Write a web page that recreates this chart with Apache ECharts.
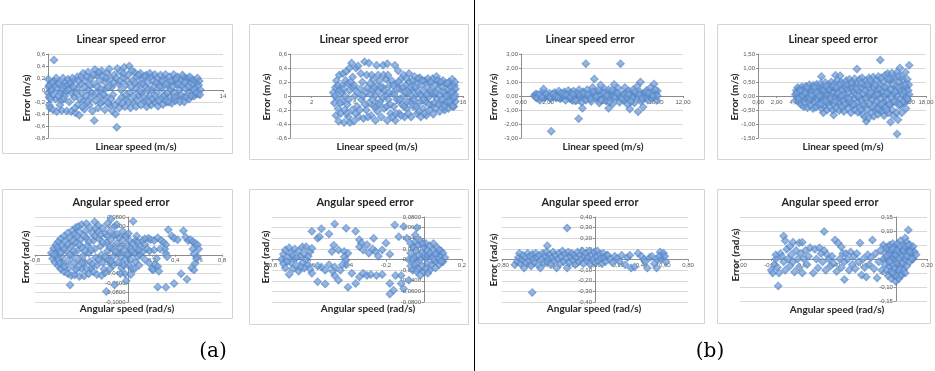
<!DOCTYPE html>
<html><head><meta charset="utf-8">
<script src="https://cdn.jsdelivr.net/npm/echarts@6/dist/echarts.min.js"></script>
<style>html,body{margin:0;padding:0;background:#fff}#c{width:935px;height:371px}</style>
</head><body><div id="c"></div>
<script>
// ---------- DATA ----------
const panelTitles = ["Linear speed error","Linear speed error","Linear speed error","Linear speed error",
  "Angular speed error","Angular speed error","Angular speed error","Angular speed error"];
const xNames = ["Linear speed (m/s)","Linear speed (m/s)","Linear speed (m/s)","Linear speed (m/s)",
  "Angular speed (rad/s)","Angular speed (rad/s)","Angular speed (rad/s)","Angular speed (rad/s)"];
const yNames = ["Error (m/s)","Error (m/s)","Error (m/s)","Error (m/s)",
  "Error (rad/s)","Error (rad/s)","Error (rad/s)","Error (rad/s)"];
const subLabels = ["(a)","(b)"];
// axis ranges: [min, max, interval]
const xRanges = [[0,14,2],[0,16,2],[0,12,2],[0,18,2],[-0.8,0.8,0.2],[-0.8,0.2,0.2],[-0.8,0.8,0.2],[-1,0.2,0.2]];
const yRanges = [[-0.8,0.6,0.2],[-0.6,0.6,0.2],[-3,3,1],[-1.5,1.5,0.5],[-0.1,0.08,0.02],[-0.08,0.08,0.02],[-0.4,0.4,0.1],[-0.15,0.15,0.05]];
// tick label decimals (-1 = general format)
const xDecimals = [-1,-1,2,2,-1,-1,2,2];
const yDecimals = [-1,-1,2,2,4,4,2,2];

const linA = [
[0.02,0.18],[0.05,0.05],[0.0,-0.05],[0.08,-0.12],[0.1,-0.25],[0.15,-0.3],[0.2,0.1],[0.25,-0.02],[0.3,0.0],
[0.48,0.5],[0.4,-0.33],[0.55,0.08],[0.6,-0.15],[0.7,-0.36],[0.5,0.15],[0.75,0.02],
[0.9,0.12],[1.0,-0.05],[1.05,-0.18],[1.1,-0.34],[1.2,0.2],[1.3,0.05],[1.35,-0.1],[1.4,0.12],
[1.5,-0.35],[1.6,0.18],[1.7,-0.2],[1.8,0.08],[1.85,-0.36],[1.9,-0.05],
[2.0,0.15],[2.1,-0.12],[2.2,-0.38],[2.3,0.02],[2.35,0.22],[2.4,-0.25],[2.5,-0.42],
[2.6,0.1],[2.7,-0.05],[2.8,0.28],[2.85,-0.18],[2.9,-0.32],[3.0,0.15],[3.05,-0.1],
[3.2,0.3],[3.25,0.0],[3.3,-0.25],[3.4,0.2],[3.5,-0.05],[3.55,-0.35],[3.6,0.1],[3.7,-0.51],
[3.75,0.34],[3.8,-0.18],[3.9,0.25],[3.95,0.05],[4.0,-0.3],[4.1,0.15],[4.15,-0.1],
[4.3,0.32],[4.35,-0.2],[4.4,0.22],[4.5,0.0],[4.55,-0.33],[4.6,0.12],[4.7,-0.12],[4.75,0.28],
[4.9,0.35],[4.95,-0.25],[5.0,0.18],[5.1,0.05],[5.15,-0.35],[5.2,-0.08],[5.3,0.25],[5.4,-0.4],[5.5,-0.62],
[5.55,0.36],[5.6,-0.2],[5.65,0.1],[5.7,-0.3],[5.8,0.3],[5.85,0.0],[5.9,-0.12],[6.0,0.2],
[6.1,0.38],[6.15,-0.28],[6.2,0.08],[6.3,-0.15],[6.4,0.25],[6.5,0.4],[6.55,-0.05],[6.6,-0.3],
[6.75,0.15],[6.8,-0.2],[6.9,0.3],[7.0,0.02],[7.05,-0.28],[7.1,0.22],[7.2,-0.1],[7.3,0.1],
[7.4,0.28],[7.45,-0.25],[7.5,-0.05],[7.6,0.18],[7.7,-0.18],[7.8,0.05],[7.85,0.25],[7.9,-0.28],
[8.0,0.12],[8.1,-0.1],[8.2,0.22],[8.25,-0.25],[8.3,0.0],[8.4,0.15],[8.5,-0.2],[8.55,0.26],
[8.7,-0.05],[8.75,0.2],[8.8,-0.27],[8.9,0.1],[9.0,0.25],[9.05,-0.15],[9.1,0.03],[9.2,-0.24],
[9.3,0.18],[9.35,-0.08],[9.4,0.26],[9.5,-0.2],[9.6,0.08],[9.7,0.22],[9.75,-0.12],[9.8,0.0],
[9.9,-0.22],[10.0,0.15],[10.05,0.26],[10.1,-0.05],[10.2,-0.18],[10.3,0.1],[10.35,0.22],[10.4,-0.1],
[10.5,0.0],[10.55,-0.2],[10.6,0.18],[10.7,0.08],[10.8,-0.12],[10.85,0.22],[10.9,-0.2],[11.0,0.02],
[11.1,0.15],[11.15,-0.08],[11.2,0.2],[11.3,-0.15],[11.4,0.05],[11.5,0.18],[11.55,-0.05],[11.6,0.1],
[11.7,-0.1],[11.75,0.15],[11.8,0.02],[11.9,0.12],[12.0,-0.05],[12.05,0.08],[12.1,0.15],[12.2,0.0],
[0.1,0.08],[0.2,-0.15],[0.35,0.12],[0.45,-0.08],[0.65,0.2],[0.8,-0.1],[0.85,0.1],[0.95,-0.25],[1.15,0.0],[1.25,-0.15],[1.45,-0.02],[1.55,0.08],[1.65,0.0],[1.75,0.12],[1.95,0.2],[2.05,0.05],[2.15,-0.3],[2.25,-0.05],[2.45,0.15],[2.55,-0.15],[2.65,0.22],[2.75,-0.28],[2.95,0.05],[3.1,0.22],[3.15,-0.2],[3.35,0.08],[3.45,-0.12],[3.65,0.25],[3.85,-0.05],[4.05,0.3],[4.2,-0.22],[4.25,0.02],[4.45,-0.08],[4.65,0.2],[4.8,-0.22],[4.85,0.05],[5.05,-0.15],[5.25,0.12],[5.35,-0.25],[5.45,0.2],[5.75,0.15],[5.95,-0.22],[6.05,0.28],[6.25,-0.08],[6.35,0.15],[6.45,-0.2],[6.65,0.05],[6.7,0.32],[6.85,-0.1],[6.95,0.12],[7.15,-0.18],[7.25,0.25],[7.35,-0.02],[7.55,0.1],[7.65,-0.12],[7.75,0.22],[7.95,0.0],[8.05,-0.2],[8.15,0.28],[8.35,-0.15],[8.45,0.05],[8.6,-0.1],[8.65,0.12],[8.85,-0.18],[8.95,0.05],[9.15,0.15],[9.25,-0.1],[9.45,0.1],[9.55,-0.05],[9.65,-0.2],[9.85,0.15],[9.95,0.05],[10.15,-0.12],[10.25,0.18],[10.45,0.1],[10.65,-0.08],[10.75,0.25],[10.95,0.12],[11.05,-0.12],[11.25,0.05],[11.35,0.22],[11.45,-0.1],[11.65,0.0],[11.85,-0.05],[11.95,0.2],[12.15,-0.08]
];
const linA2 = [
[4.0,0.05],[4.1,-0.1],[4.2,0.12],[4.25,-0.28],[4.3,0.22],[4.35,-0.02],[4.45,-0.18],[4.5,-0.36],[4.55,0.3],[4.6,0.08],[4.7,-0.25],[4.8,0.15],[4.85,-0.08],[4.9,0.32],[5.0,-0.38],[5.05,-0.2],[5.1,0.0],[5.15,0.22],[5.2,0.35],[5.3,-0.12],[5.4,-0.3],[5.5,0.08],[5.5,0.4],[5.55,-0.38],
[5.7,0.47],[5.8,0.27],[5.75,-0.2],[5.85,0.12],[5.9,-0.36],[6.0,0.0],[6.1,0.4],[6.2,-0.15],[6.3,0.43],[6.35,-0.3],[6.5,0.1],[6.6,-0.05],[6.7,0.2],[6.8,-0.32],[6.9,0.49],[7.0,0.05],[7.05,-0.2],[7.1,0.3],
[7.3,0.47],[7.3,-0.1],[7.4,0.18],[7.5,-0.28],[7.6,0.08],[7.7,0.24],[7.75,-0.15],[7.85,0.0],[7.9,-0.35],[8.0,0.44],[8.0,0.15],[8.1,-0.22],[8.2,0.06],[8.3,0.22],[8.35,-0.08],[8.45,-0.3],
[8.6,0.44],[8.6,0.12],[8.7,-0.18],[8.8,0.0],[8.9,0.24],[9.0,0.46],[9.0,-0.35],[9.1,-0.05],[9.2,0.15],[9.3,-0.25],[9.4,0.22],[9.5,0.04],[9.6,-0.15],[9.7,0.44],[9.75,-0.35],[9.85,0.18],[9.9,-0.05],[10.0,0.36],
[10.1,-0.25],[10.2,0.1],[10.3,0.25],[10.35,-0.12],[10.5,0.3],[10.5,0.0],[10.6,-0.3],[10.7,0.15],[10.8,-0.18],[10.9,0.05],[11.0,0.32],[11.05,0.2],[11.1,-0.08],[11.2,-0.3],[11.3,0.1],[11.4,-0.15],[11.5,0.28],[11.55,0.0],
[11.7,0.18],[11.75,-0.25],[11.8,0.08],[11.9,-0.1],[12.0,0.26],[12.05,0.02],[12.1,-0.3],[12.2,0.15],[12.3,-0.18],[12.4,0.05],[12.5,0.22],[12.55,-0.08],[12.6,-0.28],[12.7,0.12],[12.8,-0.02],[12.9,0.2],[12.95,-0.2],
[13.0,0.08],[13.1,-0.12],[13.2,0.25],[13.25,-0.26],[13.3,0.02],[13.4,0.15],[13.5,-0.18],[13.55,0.28],[13.6,-0.05],[13.7,0.1],[13.8,0.2],[13.85,-0.22],[13.9,0.0],[14.0,0.14],[14.1,-0.12],[14.15,0.22],
[14.3,-0.2],[14.35,0.05],[14.4,0.18],[14.5,-0.08],[14.6,0.1],[14.65,-0.18],[14.7,0.2],[14.8,0.0],[14.85,-0.12],[14.9,0.12],[15.0,0.24],[15.0,-0.05],[15.1,0.08],[15.15,-0.15],[15.2,0.15],[15.25,0.02],[15.3,-0.08],[15.3,0.1],
[4.15,0.0],[4.4,0.15],[4.65,-0.1],[4.75,0.05],[4.95,0.1],[5.25,-0.25],[5.35,0.18],[5.45,-0.05],[5.6,0.2],[5.95,0.15],[6.05,-0.25],[6.25,0.05],[6.45,-0.2],[6.55,0.32],[6.75,0.0],[6.95,-0.12],[7.15,0.12],[7.2,-0.3],[7.45,0.02],[7.55,0.3],[7.65,-0.05],[7.8,0.12],[7.95,-0.15],[8.15,0.3],[8.25,-0.12],[8.4,0.12],[8.55,-0.02],[8.65,0.3],[8.75,0.08],[8.95,-0.15],[9.05,0.3],[9.15,0.05],[9.25,-0.12],[9.45,-0.3],[9.55,0.15],[9.65,0.02],[9.8,-0.25],[9.95,0.1],[10.05,0.2],[10.15,-0.05],[10.25,-0.28],[10.45,0.12],[10.55,-0.15],[10.65,0.05],[10.75,0.25],[10.85,-0.08],[10.95,-0.25],[11.15,0.12],[11.25,0.0],[11.35,0.22],[11.45,-0.05],[11.6,0.12],[11.65,-0.15],[11.85,0.25],[11.95,-0.22],[12.15,0.0],[12.25,0.22],[12.35,-0.05],[12.45,-0.25],[12.65,0.02],[12.75,0.25],[12.85,-0.12],[13.05,0.2],[13.15,0.05],[13.35,-0.1],[13.45,0.05],[13.65,0.22],[13.75,-0.12],[13.95,0.2],[14.05,-0.05],[14.2,0.05],[14.25,-0.15],[14.45,0.0],[14.55,0.18],[14.75,-0.08],[14.95,0.05],[15.05,-0.15],[15.25,0.2],[15.2,-0.02]
];
const linB = [
[1.0,0.05],[1.05,-0.05],[1.1,0.15],[1.2,0.1],[1.3,-0.1],[1.4,-0.3],[1.5,0.05],[1.6,0.25],[1.67,0.5],[1.75,-0.15],[1.8,-0.05],[1.9,0.1],[2.0,0.0],[2.1,0.2],[2.2,-0.2],[2.24,-2.52],[2.3,0.1],[2.4,-0.05],[2.5,0.25],[2.6,-0.15],[2.6,0.15],[2.7,0.05],[2.8,0.35],[2.9,-0.2],[3.0,0.15],[3.0,-0.15],[3.1,-0.05],[3.2,0.3],[3.3,-0.3],[3.4,0.1],[3.5,0.4],[3.5,0.0],[3.55,-0.15],[3.6,0.05],[3.7,0.25],[3.8,-0.3],[3.9,0.35],[4.0,0.0],[4.1,-0.2],[4.1,0.15],[4.2,0.2],[4.27,-1.62],[4.3,0.45],[4.4,-0.1],[4.5,-0.45],[4.55,-0.88],[4.6,0.3],[4.7,0.05],[4.7,-0.15],[4.8,2.31],[4.8,-0.3],[4.9,0.45],[5.0,-0.05],[5.1,0.15],[5.2,-0.4],[5.2,0.05],[5.3,0.6],[5.43,1.21],[5.5,0.2],[5.6,-0.2],[5.6,0.3],[5.7,0.0],[5.8,-0.5],[5.9,0.79],[6.0,0.35],[6.1,-0.1],[6.2,0.5],[6.2,-0.05],[6.3,-0.35],[6.4,0.15],[6.49,-0.88],[6.5,0.45],[6.6,-0.2],[6.7,0.05],[6.8,-0.55],[6.8,0.2],[6.9,0.83],[7.0,0.3],[7.1,-0.1],[7.2,0.55],[7.3,-0.45],[7.3,0.0],[7.37,2.31],[7.5,0.15],[7.6,-0.3],[7.7,0.6],[7.8,-0.05],[7.8,0.25],[7.9,-0.6],[8.0,0.35],[8.06,-0.93],[8.1,0.05],[8.2,-0.25],[8.3,0.45],[8.3,-0.1],[8.4,-0.5],[8.5,0.15],[8.6,0.7],[8.67,-1.12],[8.7,-0.15],[8.8,0.3],[8.85,1.0],[8.9,-0.4],[8.9,0.1],[9.04,-0.79],[9.1,0.2],[9.2,-0.1],[9.3,0.4],[9.3,-0.15],[9.4,-0.3],[9.5,0.05],[9.6,0.6],[9.6,0.1],[9.7,-0.2],[9.8,0.3],[9.85,0.86],[9.9,-0.05],[10.0,0.15],[10.05,-0.3],[10.1,0.35],[10.1,0.0],
[1.15,-0.15],[1.35,0.1],[1.55,-0.1],[1.85,0.15],[2.15,-0.1],[2.35,0.15],[2.55,-0.05],[2.75,-0.1],[2.95,0.2],[3.15,0.1],[3.35,0.05],[3.65,-0.1],[3.85,0.1],[4.05,-0.35],[4.35,0.1],[4.65,0.15],[4.95,0.1],[5.15,-0.2],[5.35,0.3],[5.55,-0.05],[5.75,0.4],[5.95,-0.3],[6.15,0.2],[6.35,0.0],[6.55,-0.45],[6.75,0.4],[6.95,-0.1],[7.15,0.2],[7.45,-0.2],[7.65,0.1],[7.95,0.1],[8.15,-0.4],[8.45,0.3],[8.75,0.1],[8.95,-0.2],[9.25,0.25],[9.45,0.2],[9.75,0.0],[9.95,0.45]
];
const linB2 = [
[6.8,0.7],[10.6,0.96],[13.1,1.29],[15.2,1.0],[16.2,1.1],[11.6,-0.9],[14.9,-1.36],[14.2,-0.93],[8.1,-0.68],[7.0,-0.6],[8.3,0.74],[8.8,0.72],
[4.0,0.05],[4.05,-0.15],[4.1,0.2],[4.2,-0.05],[4.25,0.3],[4.3,0.12],[4.4,-0.22],[4.45,0.0],[4.5,0.25],
[4.6,-0.3],[4.65,0.1],[4.7,0.33],[4.8,-0.12],[4.85,0.2],[4.9,-0.38],[4.95,0.05],[5.0,-0.25],
[5.1,0.35],[5.15,0.15],[5.2,-0.08],[5.3,-0.42],[5.35,0.25],[5.4,0.0],[5.45,-0.2],[5.5,0.4],
[5.6,0.1],[5.65,-0.35],[5.7,0.3],[5.8,-0.1],[5.85,0.18],[5.9,-0.45],[5.95,0.38],[6.0,0.02],
[6.1,-0.22],[6.15,0.25],[6.2,-0.4],[6.3,0.42],[6.35,0.08],[6.4,-0.15],[6.45,0.3],[6.5,-0.3],
[6.6,0.15],[6.65,-0.05],[6.7,0.45],[6.8,-0.45],[6.85,0.22],[6.9,0.0],[6.95,-0.2],[7.0,0.35],
[7.1,-0.35],[7.15,0.1],[7.2,0.48],[7.3,-0.1],[7.35,0.28],[7.4,-0.5],[7.45,0.05],[7.5,-0.25],
[7.6,0.4],[7.65,0.18],[7.7,-0.4],[7.8,0.0],[7.85,0.5],[7.9,-0.18],[7.95,0.3],[8.0,-0.5],
[8.1,0.1],[8.15,-0.3],[8.2,0.45],[8.3,-0.05],[8.35,0.25],[8.4,-0.45],[8.45,0.05],[8.5,0.55],
[8.6,-0.2],[8.65,0.35],[8.7,-0.52],[8.8,0.15],[8.85,-0.08],[8.9,0.5],[8.95,-0.35],[9.0,0.2],
[9.1,-0.15],[9.15,0.42],[9.2,-0.55],[9.3,0.05],[9.35,0.3],[9.4,-0.3],[9.45,0.55],[9.5,-0.05],
[9.6,0.25],[9.65,-0.45],[9.7,0.1],[9.8,0.6],[9.85,-0.2],[9.9,0.38],[9.95,-0.6],[10.0,0.0],
[10.1,0.5],[10.15,-0.35],[10.2,0.2],[10.3,-0.1],[10.35,0.62],[10.4,-0.5],[10.45,0.3],[10.5,0.05],
[10.6,-0.25],[10.65,0.45],[10.7,-0.58],[10.8,0.15],[10.85,-0.05],[10.9,0.6],[10.95,-0.4],[11.0,0.3],
[11.1,-0.15],[11.15,0.65],[11.2,-0.65],[11.3,0.1],[11.35,0.4],[11.4,-0.35],[11.45,-0.75],[11.5,0.2],
[11.6,0.55],[11.65,-0.05],[11.7,-0.5],[11.8,0.3],[11.85,-0.78],[11.9,0.65],[11.95,0.0],[12.0,-0.3],
[12.1,0.45],[12.15,-0.6],[12.2,0.15],[12.3,-0.15],[12.35,0.68],[12.4,-0.72],[12.45,0.3],[12.5,0.0],
[12.6,-0.45],[12.65,0.55],[12.7,-0.2],[12.8,0.2],[12.85,-0.65],[12.9,0.7],[12.95,0.05],[13.0,-0.35],
[13.1,0.4],[13.15,-0.1],[13.2,0.65],[13.3,-0.55],[13.35,0.15],[13.4,-0.25],[13.45,0.5],[13.5,-0.7],
[13.6,0.0],[13.65,0.75],[13.7,-0.4],[13.8,0.3],[13.85,-0.15],[13.9,0.8],[13.95,-0.6],[14.0,0.1],
[14.1,0.55],[14.15,-0.3],[14.2,0.25],[14.3,-0.05],[14.35,0.82],[14.4,-0.5],[14.45,0.4],[14.5,-0.7],
[14.6,0.1],[14.65,0.65],[14.7,-0.2],[14.8,0.35],[14.85,-0.6],[14.9,0.85],[14.95,0.0],[15.0,-0.85],
[15.1,0.5],[15.15,-0.35],[15.2,0.2],[15.3,-0.1],[15.35,0.7],[15.4,-0.6],[15.45,0.35],[15.5,0.05],
[15.6,0.55],[15.65,-0.25],[15.7,0.15],[15.8,0.85],[15.85,-0.45],[15.9,0.3],[15.95,0.0],[16.0,0.6],[16.05,-0.15],[16.1,0.2],[16.15,0.4],[16.2,0.05],
[4.15,0.1],[4.35,-0.1],[4.55,0.18],[4.75,0.0],[5.05,0.1],[5.25,0.3],[5.55,-0.1],[5.75,0.02],[6.05,0.3],[6.25,0.12],[6.55,0.0],[6.75,-0.3],[7.05,0.2],[7.25,-0.2],[7.55,0.25],[7.75,-0.1],[8.05,0.35],[8.25,-0.2],[8.55,0.1],[8.75,0.4],[8.95,0.0],[9.25,-0.3],[9.55,0.4],[9.75,-0.1],[10.05,0.3],[10.25,-0.3],[10.55,0.25],[10.75,0.0],[11.05,0.45],[11.25,-0.3],[11.55,-0.1],[11.75,0.4],[12.05,0.1],[12.25,-0.4],[12.55,0.4],[12.75,0.05],[13.05,0.25],[13.25,-0.3],[13.55,0.3],[13.75,0.1],[14.05,-0.3],[14.25,0.6],[14.55,-0.2],[14.75,0.15],[15.05,0.3],[15.25,-0.3],[15.55,-0.2],[15.75,0.4],[16.0,-0.1],[9.0,-0.4],[10.0,0.45],[11.0,-0.5],[12.0,0.55],[13.0,-0.5],[14.0,0.6],[15.0,0.7],[12.8,-0.45],[13.8,-0.5],[8.4,0.3],[7.3,0.35]
];
const angA = [
[-0.66,0.004],[-0.64,0.014],[-0.62,0.022],[-0.6,0.028],[-0.58,0.034],[-0.55,0.04],[-0.52,0.046],[-0.48,0.052],[-0.45,0.058],[-0.43,0.06],[-0.4,0.064],[-0.36,0.066],[-0.33,0.058],[-0.29,0.07],[-0.26,0.062],[-0.22,0.056],[-0.18,0.066],[-0.15,0.076],[-0.12,0.06],[-0.1,0.064],
[-0.65,-0.008],[-0.63,-0.016],[-0.6,-0.024],[-0.58,-0.03],[-0.55,-0.036],[-0.52,-0.04],[-0.49,-0.044],[-0.46,-0.043],[-0.42,-0.046],[-0.38,-0.045],[-0.34,-0.04],[-0.3,-0.036],[-0.27,-0.042],[-0.23,-0.044],[-0.2,-0.038],[-0.16,-0.03],[-0.5,-0.064],[-0.19,-0.078],[-0.12,-0.064],[-0.4,-0.03],[-0.44,-0.028],
[-0.62,0.0],[-0.6,0.01],[-0.6,-0.012],[-0.57,0.018],[-0.57,-0.004],[-0.56,-0.02],[-0.54,0.028],[-0.53,0.008],[-0.52,-0.012],[-0.51,-0.028],[-0.5,0.036],[-0.49,0.018],[-0.48,-0.002],[-0.47,-0.018],[-0.46,0.044],[-0.45,0.026],[-0.44,0.008],[-0.43,-0.01],[-0.42,0.048],[-0.41,0.032],[-0.4,0.016],[-0.39,-0.002],[-0.38,-0.018],[-0.37,0.05],[-0.36,0.036],[-0.35,0.02],[-0.34,0.004],[-0.33,-0.014],[-0.32,-0.028],[-0.31,0.046],[-0.3,0.03],[-0.29,0.012],[-0.28,-0.006],[-0.27,-0.022],[-0.26,0.05],[-0.25,0.034],[-0.24,0.018],[-0.23,0.0],[-0.22,-0.016],[-0.21,-0.03],[-0.2,0.044],[-0.19,0.026],[-0.18,0.008],[-0.17,-0.012],[-0.16,0.05],[-0.15,0.032],[-0.14,0.014],[-0.13,-0.004],[-0.13,-0.022],[-0.12,0.042],
[-0.1,0.024],[-0.09,0.004],[-0.09,-0.016],[-0.08,0.036],[-0.07,0.014],[-0.06,-0.006],[-0.06,-0.028],[-0.05,0.03],[-0.04,0.01],[-0.03,-0.01],[-0.03,-0.04],[-0.02,0.04],[-0.01,0.02],[0.0,0.0],[0.0,-0.022],[0.01,0.03],[0.02,0.012],[0.02,-0.01],[0.03,-0.03],[0.04,0.024],[0.04,0.071],[0.05,0.004],[0.06,-0.016],[0.06,0.03],[0.07,0.012],[0.08,-0.004],[0.08,0.028],[0.09,-0.022],[0.1,0.018],[0.1,0.0],[-0.02,-0.055],[0.02,-0.042],
[0.12,0.03],[0.14,0.022],[0.17,0.035],[0.19,0.032],[0.22,0.03],[0.25,0.036],[0.28,0.03],[0.3,0.026],[0.34,0.053],[0.37,0.04],[0.39,0.035],[0.42,0.032],[0.47,0.051],[0.49,0.037],[0.51,0.03],[0.53,0.032],[0.55,0.028],[0.57,0.024],[0.59,0.021],[0.6,0.012],[0.59,-0.004],
[0.12,0.006],[0.14,-0.01],[0.16,0.012],[0.18,-0.018],[0.2,-0.03],[0.21,-0.032],[0.23,-0.022],[0.25,-0.025],[0.26,-0.035],[0.32,0.021],[0.32,0.003],[0.33,-0.004],[0.31,0.012],[0.25,-0.068],[0.32,-0.069],[0.39,-0.061],[0.45,-0.04],[0.5,-0.052],[0.54,-0.028],[0.56,-0.032],[0.57,-0.018],[0.58,-0.008],[0.55,0.012],[0.56,0.002],
[-0.64,0.0],[-0.61,0.016],[-0.59,-0.018],[-0.58,0.004],[-0.55,0.012],[-0.55,-0.026],[-0.52,0.022],[-0.5,0.0],[-0.48,0.03],[-0.47,0.008],[-0.45,-0.032],[-0.44,0.04],[-0.42,0.022],[-0.4,-0.018],[-0.38,0.04],[-0.37,0.008],[-0.36,-0.03],[-0.34,0.028],[-0.32,0.01],[-0.31,-0.02],[-0.29,0.04],[-0.28,0.056],[-0.26,-0.01],[-0.24,0.042],[-0.22,0.026],[-0.2,-0.004],[-0.18,0.04],[-0.16,0.016],[-0.15,-0.014],[-0.11,0.006],[-0.1,0.044],[-0.07,-0.04],[-0.05,0.05],[-0.04,-0.022],[-0.01,0.0],[0.0,0.045],[0.03,0.008],[0.05,-0.03],[0.07,0.04],[0.09,0.01],[0.14,0.034],[0.18,0.008],[0.22,0.01],[0.24,-0.008],[0.27,0.012]
];
const angA2 = [
[-0.75,0.0],[-0.74,-0.008],[-0.74,0.01],[-0.73,0.018],[-0.73,-0.016],[-0.72,0.004],[-0.71,-0.028],[-0.71,0.022],[-0.7,-0.006],[-0.7,0.012],[-0.69,-0.018],[-0.68,0.02],[-0.68,0.002],[-0.67,-0.012],[-0.66,0.016],[-0.66,-0.022],[-0.65,0.006],[-0.64,-0.006],[-0.64,0.024],[-0.63,0.01],[-0.63,-0.016],[-0.62,0.024],[-0.62,0.0],[-0.61,-0.01],[-0.6,0.014],[-0.59,0.021],[-0.59,-0.026],[-0.6,-0.018],
[-0.59,0.053],[-0.56,0.04],[-0.55,0.043],[-0.54,0.058],[-0.5,0.048],[-0.47,0.067],[-0.41,0.059],[-0.36,0.053],[-0.34,0.037],[-0.3,0.028],[-0.33,0.031],[-0.34,0.024],[-0.32,0.018],[-0.265,0.04],[-0.2,0.031],[-0.154,0.065],[-0.133,0.043],[-0.107,0.062],[-0.09,0.04],[-0.046,0.046],[-0.037,0.06],
[-0.475,0.027],[-0.485,0.015],[-0.45,0.018],[-0.42,0.015],[-0.4,0.012],[-0.42,0.005],[-0.41,-0.001],[-0.41,-0.01],[-0.29,0.012],[-0.256,0.015],[-0.22,0.018],[-0.18,0.01],[-0.24,0.006],[-0.27,0.02],
[-0.56,-0.042],[-0.52,-0.046],[-0.54,-0.014],[-0.5,-0.01],[-0.47,-0.014],[-0.47,-0.03],[-0.48,-0.022],[-0.45,-0.039],[-0.4,-0.052],[-0.38,-0.026],[-0.36,-0.045],[-0.34,-0.033],[-0.32,-0.026],[-0.3,-0.03],[-0.28,-0.028],[-0.25,-0.03],[-0.22,-0.028],[-0.18,-0.045],[-0.16,-0.058],[-0.18,-0.065],[-0.15,-0.03],[-0.12,-0.03],[-0.12,-0.045],[-0.107,-0.055],[-0.56,-0.012],[-0.52,-0.02],[-0.44,-0.02],[-0.43,-0.01],
[-0.08,-0.039],[-0.08,0.0],[-0.07,0.012],[-0.07,-0.012],[-0.06,0.024],[-0.06,-0.02],[-0.05,0.004],[-0.05,0.032],[-0.04,-0.008],[-0.04,0.016],[-0.03,0.028],[-0.03,-0.018],[-0.02,0.0],[-0.02,0.036],[-0.01,0.012],[-0.01,-0.012],[0.0,0.024],[0.0,-0.024],[0.01,0.004],[0.01,0.03],[0.02,-0.008],[0.02,0.016],[0.03,-0.02],[0.03,0.026],[0.04,0.006],[0.04,-0.01],[0.05,0.018],[0.05,0.03],[0.06,-0.004],[0.06,-0.016],[0.07,0.012],[0.07,0.022],[0.08,0.0],[0.08,-0.01],[0.09,0.016],[0.09,0.006],[0.1,-0.004],[0.1,0.012],[0.11,0.004],[-0.02,-0.03],[0.0,0.008],[-0.06,0.0],
[-0.72,-0.004],[-0.69,0.008],[-0.67,0.004],[-0.65,-0.014],[-0.61,0.006],[-0.07,0.03],[-0.05,-0.01],[-0.03,0.008],[-0.01,0.03],[0.01,-0.018],[0.02,0.008],[0.03,0.012],[0.05,0.0],[0.06,0.01],[0.08,0.018],[0.09,-0.004],[-0.04,-0.022],[0.02,-0.026]
];
const angB = [
[-0.24,0.296],[-0.54,-0.31],[-0.41,0.13],
[-0.69,-0.05],[-0.67,-0.02],[-0.66,0.02],[-0.65,0.06],[-0.64,-0.04],[-0.63,0.0],[-0.62,0.04],[-0.61,-0.08],[-0.6,0.02],[-0.59,-0.03],[-0.58,0.06],[-0.57,-0.01],[-0.56,0.03],[-0.55,-0.06],[-0.54,0.05],[-0.53,0.0],[-0.52,-0.03],[-0.51,0.06],[-0.5,0.02],[-0.49,-0.05],[-0.48,0.04],[-0.47,-0.08],[-0.46,0.0],[-0.45,0.06],[-0.44,-0.03],[-0.43,0.03],[-0.42,0.07],[-0.41,-0.02],[-0.4,0.01],[-0.39,0.05],[-0.38,-0.05],[-0.37,0.02],[-0.36,0.07],[-0.35,-0.01],[-0.34,0.04],[-0.33,-0.08],[-0.32,0.0],[-0.31,0.06],[-0.3,-0.04],[-0.29,0.03],[-0.28,0.08],[-0.27,-0.02],[-0.26,0.05],[-0.25,0.01],[-0.24,-0.08],[-0.23,0.07],[-0.22,-0.03],[-0.21,0.03],[-0.2,0.06],[-0.19,-0.01],[-0.18,0.04],[-0.17,-0.05],[-0.16,0.02],
[-0.15,0.07],[-0.14,-0.02],[-0.13,0.04],[-0.12,0.0],[-0.11,0.08],[-0.1,-0.04],[-0.09,0.03],[-0.08,0.06],[-0.07,-0.01],[-0.06,0.02],[-0.05,0.08],[-0.04,-0.05],[-0.03,0.04],[-0.02,0.0],[-0.01,0.07],[0.0,-0.03],[0.01,0.03],[0.02,0.08],[0.03,-0.01],[0.04,0.05],[0.05,0.01],[0.06,-0.04],[0.07,0.06],[0.08,0.02],[0.09,-0.02],[0.1,0.04],
[0.11,0.04],[0.13,0.0],[0.15,-0.03],[0.17,0.03],[0.19,0.01],[0.21,-0.02],[0.23,0.04],[0.26,-0.05],[0.28,0.02],[0.3,0.04],[0.31,-0.08],[0.34,-0.07],[0.37,0.06],[0.4,0.03],[0.42,0.0],[0.43,-0.02],[0.45,-0.08],[0.47,0.02],[0.49,0.03],[0.51,-0.04],[0.53,-0.08],[0.54,0.0],[0.56,0.07],[0.57,0.0],[0.58,0.04],[0.59,0.06],[0.6,0.03],[0.61,-0.02],[0.55,0.03]
];
const angB2 = [
[-0.46,0.098],[-0.755,-0.096],[0.08,0.104],[-0.33,-0.073],
[-0.8,-0.04],[-0.79,-0.05],[-0.78,-0.02],[-0.77,0.0],[-0.77,0.015],[-0.76,-0.03],[-0.75,-0.05],[-0.74,0.02],[-0.73,0.008],[-0.72,-0.01],[-0.72,0.082],[-0.71,0.065],[-0.71,-0.04],[-0.7,0.035],[-0.69,0.0],[-0.68,-0.025],[-0.68,0.045],[-0.67,0.015],[-0.66,0.06],[-0.66,-0.01],[-0.65,-0.046],[-0.64,0.03],[-0.63,0.0],[-0.62,0.058],[-0.62,-0.03],[-0.61,0.02],[-0.6,-0.05],[-0.6,0.06],[-0.59,0.0],[-0.58,0.03],[-0.57,-0.02],[-0.56,0.01],[-0.55,0.04],
[-0.53,-0.05],[-0.52,0.035],[-0.51,0.0],[-0.5,-0.032],[-0.49,0.04],[-0.48,0.02],[-0.47,-0.01],[-0.46,0.03],[-0.45,-0.04],[-0.44,0.015],[-0.43,0.0],[-0.42,-0.025],[-0.41,0.01],[-0.4,-0.015],[-0.39,0.068],[-0.38,-0.045],[-0.37,0.057],[-0.36,0.0],[-0.35,0.043],[-0.35,-0.03],[-0.34,0.02],[-0.33,-0.01],[-0.32,0.02],[-0.31,0.0],[-0.3,-0.04],[-0.29,0.025],[-0.28,-0.02],[-0.27,0.01],[-0.26,-0.035],[-0.25,0.02],[-0.24,-0.01],[-0.23,0.057],[-0.22,-0.057],[-0.21,0.0],[-0.2,-0.03],[-0.19,-0.064],[-0.18,0.015],[-0.17,-0.02],[-0.16,0.005],[-0.15,0.068],[-0.14,-0.035],[-0.13,0.02],[-0.12,-0.068],[-0.11,-0.01],[-0.1,0.03],[-0.09,-0.04],
[-0.08,0.05],[-0.08,0.0],[-0.07,-0.02],[-0.07,0.02],[-0.06,0.04],[-0.06,-0.04],[-0.05,0.032],[-0.05,0.0],[-0.05,-0.06],[-0.04,0.015],[-0.04,-0.025],[-0.04,0.05],[-0.03,-0.07],[-0.03,-0.045],[-0.03,0.03],[-0.02,0.0],[-0.02,-0.02],[-0.02,0.055],[-0.01,0.04],[-0.01,-0.06],[-0.01,0.015],[0.0,-0.08],[0.0,-0.035],[0.0,0.0],[0.0,0.03],[0.01,0.055],[0.01,-0.015],[0.01,-0.05],[0.02,0.02],[0.02,-0.07],[0.02,0.04],[0.03,0.0],[0.03,-0.03],[0.03,0.065],[0.04,-0.055],[0.04,0.03],[0.04,0.01],[0.05,0.05],[0.05,-0.02],[0.05,-0.04],[0.06,0.075],[0.06,0.02],[0.06,0.0],[0.07,0.04],[0.07,-0.025],[0.07,0.06],[0.08,0.01],[0.08,0.03],[0.09,-0.01],[0.09,0.05],[0.1,0.02],[0.1,0.035],[0.11,0.0],[0.12,0.025],[0.13,0.015],[0.11,0.045],
[-0.06,0.01],[-0.04,-0.01],[-0.02,0.035],[-0.01,-0.035],[0.0,0.015],[0.01,0.03],[0.02,-0.04],[0.02,0.0],[0.03,0.045],[0.04,-0.015],[0.05,0.03],[0.06,-0.05],[0.06,0.045],[0.07,0.01],[0.08,0.05],[0.09,0.025],[0.1,0.0],[0.03,-0.06],[0.0,-0.06],[-0.02,-0.05]
];
const seriesData = [linA, linA2, linB, linB2, angA, angA2, angB, angB2];

// ---------- LAYOUT (pixels) ----------
const layout = [
 {box:[2,24,230,129], grid:[48,54,175,84], title:[121,39], xname:[136,147], yname:[27,98]},
 {box:[249,24,219,135], grid:[290,54,173,84], title:[364,39], xname:[377,147], yname:[267,97]},
 {box:[478,24,226,135], grid:[521,54,162,84], title:[590,39], xname:[603,147], yname:[494,97]},
 {box:[717,24,213,135], grid:[758,54,168,84], title:[833,39], xname:[843,147], yname:[735,97]},
 {box:[2,189,230,129], grid:[35,217,187,85], title:[121,202], xname:[127,309], yname:[26,257]},
 {box:[249,189,219,135], grid:[272,217,190,85], title:[365,202], xname:[368,309], yname:[266,257]},
 {box:[478,189,226,134], grid:[502,217,186,85], title:[590,202], xname:[594,309], yname:[494,260]},
 {box:[717,189,213,134], grid:[740,217,187,84], title:[830,202], xname:[837,310], yname:[736,255]}
];
const subPos = [[213,352],[710,352]];

function fmt(d){
  return function(v){
    if (d < 0) return String(+(+v).toFixed(6)).replace('.', ',');
    let s = (+v).toFixed(d);
    if (/^-0[.,]?0*$/.test(s)) s = s.slice(1);
    return s.replace('.', ',');
  };
}

const markerFill = {type:'radial', x:0.5, y:0.45, r:0.6,
  colorStops:[{offset:0, color:'#8cb0e0'}, {offset:0.55, color:'#5f8fcf'}, {offset:1, color:'#4374b6'}]};

const grids = [], xAxes = [], yAxes = [], series = [], graphics = [];
const txtColor = '#262626', lblColor = '#595959', axisColor = '#8c8c8c', gridColor = '#d9d9d9';
layout.forEach((L, i) => {
  const [x0, x1, xs] = xRanges[i], [y0, y1, ys] = yRanges[i];
  // axes cross at zero (Excel style): shift each axis from the grid edge to the other axis' zero
  const xOff = -L.grid[3] * (0 - y0) / (y1 - y0);
  const yOff = -L.grid[2] * (0 - x0) / (x1 - x0);
  grids.push({left:L.grid[0], top:L.grid[1], width:L.grid[2], height:L.grid[3], containLabel:false, outerBoundsMode:'none'});
  xAxes.push({type:'value', gridIndex:i, min:x0, max:x1, interval:xs, position:'bottom', offset:xOff,
    axisLine:{show:true, onZero:false, lineStyle:{color:axisColor, width:1}},
    axisTick:{show:true, length:2, lineStyle:{color:axisColor}},
    splitLine:{show:false},
    axisLabel:{fontSize:6, color:lblColor, margin:3, fontFamily:'Liberation Sans', formatter:fmt(xDecimals[i])}});
  yAxes.push({type:'value', gridIndex:i, min:y0, max:y1, interval:ys, position:'left', offset:yOff,
    axisLine:{show:true, onZero:false, lineStyle:{color:axisColor, width:1}},
    axisTick:{show:true, length:2, lineStyle:{color:axisColor}},
    splitLine:{show:true, lineStyle:{color:gridColor, width:1}},
    axisLabel:{fontSize:6, color:lblColor, margin:3, fontFamily:'Liberation Sans', formatter:fmt(yDecimals[i])}});
  series.push({type:'scatter', xAxisIndex:i, yAxisIndex:i, data:seriesData[i], symbol:'diamond', symbolSize:8.5,
    itemStyle:{color:markerFill, borderColor:'#4a7ab9', borderWidth:0.3}, emphasis:{disabled:true}, silent:true});
  graphics.push({type:'rect', shape:{x:L.box[0]+0.5, y:L.box[1]+0.5, width:L.box[2], height:L.box[3]},
    style:{fill:'none', stroke:'#d4d4d4', lineWidth:1}, silent:true});
  graphics.push({type:'text', x:L.title[0], y:L.title[1], style:{text:panelTitles[i], align:'center', verticalAlign:'middle',
    textAlign:'center', textVerticalAlign:'middle', font:'bold 11px Lato', fill:txtColor}, silent:true});
  graphics.push({type:'text', x:L.xname[0], y:L.xname[1], style:{text:xNames[i], align:'center', verticalAlign:'middle',
    textAlign:'center', textVerticalAlign:'middle', font:'bold 10px Lato', fill:txtColor}, silent:true});
  graphics.push({type:'text', x:L.yname[0], y:L.yname[1], rotation:Math.PI/2, style:{text:yNames[i], align:'center', verticalAlign:'middle',
    textAlign:'center', textVerticalAlign:'middle', font:'bold 10px Lato', fill:txtColor}, silent:true});
});
graphics.push({type:'line', shape:{x1:474.5, y1:0, x2:474.5, y2:371}, style:{stroke:'#000', lineWidth:1}, silent:true});
subLabels.forEach((s, k) => {
  graphics.push({type:'text', x:subPos[k][0], y:subPos[k][1], style:{text:s, align:'center', verticalAlign:'middle',
    textAlign:'center', textVerticalAlign:'middle', font:'20px "DejaVu Serif"', fill:'#000'}, silent:true});
});

const chart = echarts.init(document.getElementById('c'), null, {renderer:'canvas'});
chart.setOption({animation:false, backgroundColor:'#fff', grid:grids, xAxis:xAxes, yAxis:yAxes, series:series, graphic:graphics});
</script>
</body></html>
